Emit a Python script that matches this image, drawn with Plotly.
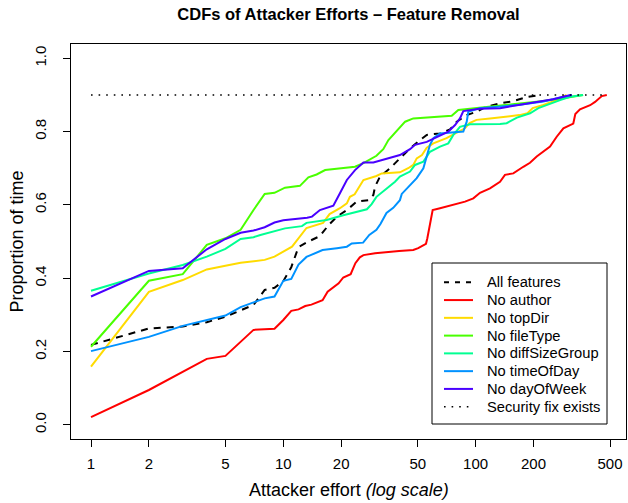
import plotly.graph_objects as go

# ---------------- data ----------------
all_x = [1, 2, 3, 4, 5, 6, 7, 8, 9, 10, 11, 12, 13.5, 15.5, 17.2, 19, 21.4, 24.1, 27.7, 29.4, 30,
         31.8, 35.9, 40.4, 45.6, 51.4, 55.7, 65.3, 73.6, 79.8, 89.9, 101, 114, 134, 157, 184, 216]
all_y = [0.218, 0.263, 0.268, 0.280, 0.295, 0.313, 0.327, 0.368, 0.374, 0.392, 0.430, 0.485, 0.500,
         0.515, 0.545, 0.568, 0.586, 0.609, 0.613, 0.627, 0.650, 0.677, 0.700, 0.727, 0.754, 0.777,
         0.791, 0.795, 0.806, 0.827, 0.845, 0.854, 0.868, 0.877, 0.883, 0.894, 0.900]

author_x = [1, 2, 4, 5, 7, 9, 10, 11, 12, 13, 14, 16, 17, 18.6, 19.4, 20.5, 22.4, 23.7, 25, 26.1,
            30, 40, 47.4, 50.3, 55.2, 56.1, 59.8, 65.3, 73.6, 88.1, 97.3, 105.4, 118.8, 133.9,
            142.1, 157, 177, 191.8, 207.8, 225, 243.8, 264, 286, 322, 330, 349, 394, 418, 453, 481]
author_y = [0.021, 0.095, 0.180, 0.188, 0.259, 0.262, 0.286, 0.311, 0.315, 0.324, 0.328, 0.340,
            0.363, 0.377, 0.386, 0.402, 0.411, 0.441, 0.457, 0.463, 0.468, 0.474, 0.477, 0.482,
            0.494, 0.509, 0.586, 0.591, 0.599, 0.609, 0.618, 0.633, 0.645, 0.663, 0.682, 0.686,
            0.704, 0.715, 0.732, 0.745, 0.759, 0.786, 0.809, 0.822, 0.848, 0.861, 0.872, 0.881,
            0.897, 0.900]

topdir_x = [1, 2, 3, 4, 5, 6, 8, 9, 11.1, 13.2, 16.1, 17.4, 19.7, 21.4, 22.2, 23.5, 26.1, 28.1,
            30.5, 32.5, 40.4, 44.6, 47.4, 49.4, 52.6, 55.7, 60.3, 70.6, 82.6, 88, 93, 101, 118.8,
            144.6, 169, 186, 198, 225, 253, 297]
topdir_y = [0.159, 0.363, 0.395, 0.424, 0.434, 0.442, 0.450, 0.459, 0.486, 0.537, 0.551, 0.575,
            0.591, 0.604, 0.622, 0.629, 0.668, 0.673, 0.679, 0.686, 0.689, 0.700, 0.709, 0.727,
            0.736, 0.756, 0.768, 0.782, 0.800, 0.809, 0.823, 0.832, 0.836, 0.841, 0.845, 0.850,
            0.864, 0.873, 0.882, 0.900]

filetype_x = [1, 2, 3, 4, 5, 6, 7, 8, 9, 10.2, 12.2, 13.5, 14.9, 16.5, 23.6, 26.1, 30.5, 33.1,
              35.2, 37.3, 43, 47.4, 57.9, 75.1, 81.3, 93.5, 120, 160, 220, 280, 362]
filetype_y = [0.213, 0.393, 0.411, 0.491, 0.509, 0.532, 0.586, 0.630, 0.633, 0.647, 0.652, 0.675,
              0.683, 0.695, 0.704, 0.714, 0.734, 0.752, 0.777, 0.791, 0.827, 0.836, 0.839, 0.843,
              0.859, 0.862, 0.868, 0.875, 0.883, 0.890, 0.900]

diffsize_x = [1, 2, 3, 4, 5, 6, 7, 7.6, 10.2, 12.5, 13.2, 16.8, 20.5, 24.1, 27.2, 28.8, 30.5, 34.5,
              38.1, 40.4, 45.6, 48.4, 53.5, 57.9, 65.3, 72.1, 76.6, 82.9, 93.5, 134, 145, 164,
              192, 212, 244, 275, 310, 362]
diffsize_y = [0.366, 0.413, 0.436, 0.459, 0.480, 0.507, 0.512, 0.518, 0.536, 0.542, 0.551, 0.559,
              0.572, 0.581, 0.588, 0.602, 0.622, 0.645, 0.663, 0.677, 0.691, 0.709, 0.718, 0.745,
              0.759, 0.768, 0.791, 0.813, 0.820, 0.821, 0.823, 0.838, 0.850, 0.864, 0.877, 0.886,
              0.895, 0.900]

timeofday_x = [1, 2, 3, 4, 5, 6, 7, 8, 9, 10, 11, 12, 13.2, 14.2, 16, 19, 21.4, 22.7, 26, 28, 30.5,
               32, 34.4, 37.3, 38.9, 40.4, 41.3, 45.6, 49.4, 53.5, 55.7, 57.9, 60.3, 65.3, 86.3,
               89.9, 91.6, 105, 170, 225, 253, 296, 316]
timeofday_y = [0.201, 0.240, 0.270, 0.286, 0.298, 0.321, 0.333, 0.345, 0.350, 0.393, 0.398, 0.437,
               0.458, 0.466, 0.477, 0.482, 0.486, 0.495, 0.497, 0.518, 0.532, 0.548, 0.578, 0.592,
               0.604, 0.613, 0.630, 0.654, 0.673, 0.700, 0.736, 0.764, 0.782, 0.795, 0.800, 0.827,
               0.854, 0.864, 0.873, 0.882, 0.888, 0.897, 0.900]

dayofweek_x = [1, 2, 3, 4, 5, 6, 7, 8, 9, 10, 13.3, 14.1, 15.5, 18.2, 19.7, 21.4, 23.6, 26.1, 29.4,
               34.5, 40.4, 45.6, 48.4, 55.7, 66.6, 72.1, 78.2, 82.9, 86.3, 105, 134, 157, 198,
               253, 296, 316]
dayofweek_y = [0.350, 0.420, 0.427, 0.479, 0.507, 0.524, 0.530, 0.539, 0.552, 0.558, 0.565, 0.568,
               0.586, 0.598, 0.632, 0.668, 0.695, 0.716, 0.716, 0.725, 0.736, 0.752, 0.764, 0.772,
               0.791, 0.800, 0.818, 0.836, 0.856, 0.862, 0.864, 0.870, 0.878, 0.888, 0.897, 0.900]

fix_x = [1, 481]
fix_y = [0.9, 0.9]

x_ticks = [1, 2, 5, 10, 20, 50, 100, 200, 500]
x_tick_labels = ["1", "2", "5", "10", "20", "50", "100", "200", "500"]
y_ticks = [0.0, 0.2, 0.4, 0.6, 0.8, 1.0]
y_tick_labels = ["0.0", "0.2", "0.4", "0.6", "0.8", "1.0"]

series = [
    ("All features", all_x, all_y, "#000000", "7px,6px", 2),
    ("No author", author_x, author_y, "#FF0000", "solid", 2),
    ("No topDir", topdir_x, topdir_y, "#FFDB00", "solid", 2),
    ("No fileType", filetype_x, filetype_y, "#49FF00", "solid", 2),
    ("No diffSizeGroup", diffsize_x, diffsize_y, "#00FF92", "solid", 2),
    ("No timeOfDay", timeofday_x, timeofday_y, "#0092FF", "solid", 2),
    ("No dayOfWeek", dayofweek_x, dayofweek_y, "#4900FF", "solid", 2),
    ("Security fix exists", fix_x, fix_y, "#000000", "1.6px,6px", 1.6),
]

FONT = "Liberation Sans, Arial, Helvetica, sans-serif"

# plot-area geometry (pixels) used to place the hand-drawn R-style legend
W, H = 628, 503
L, R, T, B = 71, 2, 44, 64
PW, PH = W - L - R, H - T - B


def px(xpix):
    return (xpix - L) / PW


def py(ypix):
    return (H - B - ypix) / PH


fig = go.Figure()
for name, xs, ys, col, dash, lw in series:
    fig.add_trace(go.Scatter(x=xs, y=ys, mode="lines", name=name, showlegend=False,
                             line=dict(color=col, width=lw, dash=dash)))

# legend (box, line samples, labels) in the style of R's legend()
shapes = [dict(type="rect", xref="paper", yref="paper", x0=px(432), x1=px(607),
               y0=py(424), y1=py(263), line=dict(color="black", width=1),
               fillcolor="white", layer="above")]
annotations = []
row0, step = 282.3, 17.77
for i, (name, xs, ys, col, dash, lw) in enumerate(series):
    yc = row0 + i * step
    sdash = "5px,6px" if dash == "7px,6px" else dash
    shapes.append(dict(type="line", xref="paper", yref="paper", x0=px(444), x1=px(473),
                       y0=py(yc), y1=py(yc), line=dict(color=col, width=lw, dash=sdash),
                       layer="above"))
    annotations.append(dict(text=name, xref="paper", yref="paper", x=px(485), y=py(yc),
                            xanchor="left", yanchor="middle", showarrow=False,
                            font=dict(size=14.7, family=FONT, color="black")))

annotations += [
    dict(text="Attacker effort <i>(log scale)</i>", xref="paper", yref="paper",
         x=0.5, y=0, xanchor="center", yanchor="middle", yshift=-51,
         showarrow=False, font=dict(size=18, family=FONT)),
    dict(text="Proportion of time", xref="paper", yref="paper",
         x=0, y=0.5, xanchor="center", yanchor="middle", xshift=-55, textangle=-90,
         showarrow=False, font=dict(size=18, family=FONT)),
]

fig.update_layout(
    width=W, height=H,
    margin=dict(l=L, r=R, t=T, b=B, autoexpand=False),
    paper_bgcolor="white", plot_bgcolor="white",
    font=dict(family=FONT, size=15, color="black"),
    title=dict(text="<b>CDFs of Attacker Efforts \u2013 Feature Removal</b>",
               font=dict(size=16.5, family=FONT, color="black"),
               x=348.5 / W, xanchor="center", xref="container",
               y=1 - 14 / H, yanchor="middle", yref="container"),
    showlegend=False,
    xaxis=dict(type="log", range=[-0.104, 2.782], tickmode="array",
               tickvals=x_ticks, ticktext=x_tick_labels, automargin=False,
               ticks="outside", ticklen=7, tickcolor="black", tickwidth=1,
               showline=True, mirror=True, linecolor="black", linewidth=1,
               showgrid=False, zeroline=False, ticklabelstandoff=4,
               tickfont=dict(size=15)),
    yaxis=dict(range=[-0.0387, 1.039], tickmode="array", automargin=False,
               tickvals=y_ticks, ticktext=y_tick_labels, tickangle=-90,
               ticks="outside", ticklen=7, tickcolor="black", tickwidth=1,
               showline=True, mirror=True, linecolor="black", linewidth=1,
               showgrid=False, zeroline=False, ticklabelstandoff=11,
               tickfont=dict(size=15)),
    shapes=shapes,
    annotations=annotations,
)

fig.write_html("out.html", config={"displayModeBar": False},
               post_script="document.body.style.margin='0';document.body.style.padding='0';")
